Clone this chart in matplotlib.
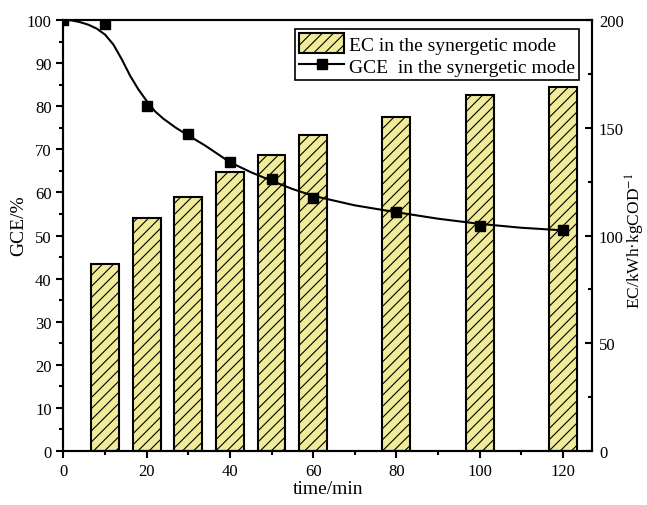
import numpy as np
import matplotlib.pyplot as plt
from matplotlib.ticker import MultipleLocator

plt.rcParams.update({
    'font.family': ['Liberation Serif', 'DejaVu Serif'],
    'mathtext.fontset': 'stix',
    'font.size': 12,
    'axes.linewidth': 1.5,
    'hatch.linewidth': 0.8,
})

# Datos
tiempo = [10, 20, 30, 40, 50, 60, 80, 100, 120]
ec = [87, 108, 118, 129.4, 137.4, 146.6, 155.2, 165.4, 168.8]

t_gce = [0, 10, 20, 30, 40, 50, 60, 80, 100, 120]
gce = [100, 99.1, 80.1, 73.6, 67.0, 63.0, 58.8, 55.5, 52.2, 51.2]

# Curva ajustada
t_fit = [0, 2, 4, 6, 8, 10, 12, 14, 16, 18, 20, 22, 24, 27, 30, 34, 40, 45, 50,
         55, 60, 70, 80, 90, 100, 110, 120]
gce_fit = [100, 99.9, 99.5, 98.9, 98.0, 96.6, 94.3, 90.9, 87.1, 83.9, 81.2, 78.8,
           77.1, 75.0, 73.2, 70.9, 67.0, 64.7, 62.7, 60.8, 59.2, 57.0, 55.4, 53.9,
           52.7, 51.8, 51.2]

fig = plt.figure(figsize=(6.47, 5.06), dpi=100)
ax = fig.add_axes([0.0981, 0.1067, 0.8168, 0.8518])
ax2 = ax.twinx()

ax2.bar(tiempo, ec, width=6.7, color='#F0EC9A', edgecolor='black', linewidth=1.5,
        hatch='///', label='EC in the synergetic mode')

ax.plot(t_fit, gce_fit, '-', color='black', lw=1.5)
ax.plot(t_gce, gce, 's', color='black', ms=7)
linea, = ax.plot([], [], '-s', color='black', lw=1.5, ms=7)

ax.set_zorder(ax2.get_zorder() + 1)
ax.patch.set_visible(False)

ax.set_xlim(0, 127)
ax.set_ylim(0, 100)
ax2.set_ylim(0, 200)

ax.xaxis.set_major_locator(MultipleLocator(20))
ax.xaxis.set_minor_locator(MultipleLocator(10))
ax.yaxis.set_major_locator(MultipleLocator(10))
ax.yaxis.set_minor_locator(MultipleLocator(5))
ax2.yaxis.set_major_locator(MultipleLocator(50))
ax2.yaxis.set_minor_locator(MultipleLocator(25))

ax.tick_params(axis='both', which='major', direction='out', length=5, width=1.5,
               labelsize=12)
ax.tick_params(axis='both', which='minor', direction='out', length=3, width=1.5)
ax.tick_params(top=False, which='both')
ax2.tick_params(axis='y', which='major', direction='in', length=5, width=1.5,
                labelsize=12, pad=5)
ax2.tick_params(axis='y', which='minor', direction='in', length=3, width=1.5)

ax.set_xlabel('time/min', fontsize=14, labelpad=1)
ax.set_ylabel('GCE/%', fontsize=14, va='center')
ax.yaxis.set_label_coords(-0.085, 0.524)
ax2.set_ylabel('EC/kWh·kgCOD$^{\\mathrm{-1}}$', fontsize=12.5, va='center',
               rotation=90)
ax2.yaxis.set_label_coords(1.082, 0.49)

barras, etiquetas = ax2.get_legend_handles_labels()
leg = ax.legend(barras + [linea], etiquetas + ['GCE  in the synergetic mode'],
                loc='upper right', bbox_to_anchor=(0.975, 0.978), borderaxespad=0,
                fontsize=14, fancybox=False, framealpha=1, edgecolor='black',
                handlelength=2.3, handleheight=1.2, borderpad=0.2,
                labelspacing=0.1, handletextpad=0.25)
leg.get_frame().set_linewidth(1.2)

fig.savefig('out.png', dpi=100)
